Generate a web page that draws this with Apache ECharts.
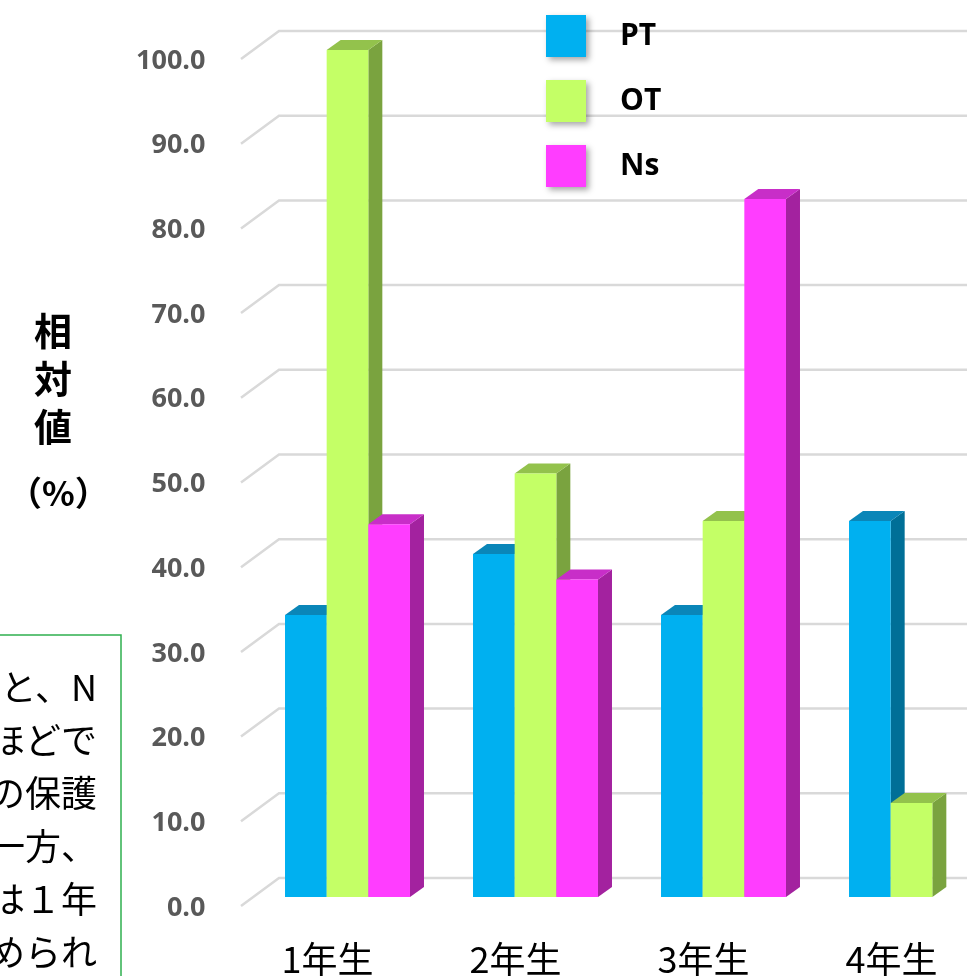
<!DOCTYPE html>
<html>
<head>
<meta charset="utf-8">
<title>相対値</title>
<script src="https://cdn.jsdelivr.net/npm/echarts@6/dist/echarts.min.js"></script>
<style>
  html, body { margin: 0; padding: 0; background: #fff; }
  #chart { width: 967px; height: 976px; }
</style>
</head>
<body>
<div id="chart"></div>
<script>
// data
var categories = ['1年生', '2年生', '3年生', '4年生'];
var seriesNames = ['PT', 'OT', 'Ns'];
var ptValues = [33.3, 40.5, 33.3, 44.4];
var otValues = [100.0, 50.0, 44.4, 11.1];
var nsValues = [44.0, 37.5, 82.4, null];
var yTicks = [0, 10, 20, 30, 40, 50, 60, 70, 80, 90, 100];
var noteLines = ['と、N', 'ほどで', 'の保護', '一方、', 'は１年', 'められ'];

// front / top / side colours of the 3d bars
var faceColors = {
    PT: ['#00b0f0', '#0a86b8', '#006f97'],
    OT: ['#c4ff66', '#93c24c', '#7aa33f'],
    Ns: ['#ff3dff', '#c82ec8', '#a3229f']
};
var DX = 14, DY = 10;

function toPairs(values) {
    var out = [];
    values.forEach(function (v, i) {
        if (v != null) out.push([i, v]);
    });
    return out;
}

function barRenderer(k, cols) {
    return function (params, api) {
        var top = api.coord([api.value(0), api.value(1)]);
        var base = api.coord([api.value(0), 0]);
        var band = api.size([1, 0])[0];
        var w = band * 0.2216;
        var l = top[0] - 1.5 * w + k * w;
        var yt = top[1], yb = base[1];
        return {
            type: 'group',
            children: [
                {type: 'polygon', shape: {points: [[l + w, yt], [l + w + DX, yt - DY], [l + w + DX, yb - DY], [l + w, yb]]}, style: {fill: cols[2]}},
                {type: 'polygon', shape: {points: [[l, yt], [l + DX, yt - DY], [l + w + DX, yt - DY], [l + w, yt]]}, style: {fill: cols[1]}},
                {type: 'rect', shape: {x: l, y: yt, width: w, height: yb - yt}, style: {fill: cols[0]}}
            ]
        };
    };
}

function gridRenderer(params, api) {
    var p = api.coord([0, api.value(1)]);
    var cs = params.coordSys;
    var y = p[1];
    return {
        type: 'polyline',
        silent: true,
        shape: {points: [[cs.x - 12.5, y + 9], [cs.x + 25.5, y - 19], [cs.x + cs.width, y - 19]]},
        style: {stroke: '#d9d9d9', lineWidth: 2.5, fill: null}
    };
}

var valueSets = [ptValues, otValues, nsValues];
var series = [{
    name: 'grid',
    type: 'custom',
    silent: true,
    renderItem: gridRenderer,
    data: yTicks.map(function (v) { return [0, v]; })
}];
seriesNames.forEach(function (name, k) {
    series.push({
        name: name,
        type: 'custom',
        renderItem: barRenderer(k, faceColors[name]),
        itemStyle: {color: faceColors[name][0]},
        data: toPairs(valueSets[k])
    });
});

var myChart = echarts.init(document.getElementById('chart'));
var option = {
    backgroundColor: '#fff',
    animation: false,
    grid: {left: 253.5, top: 50, width: 752, height: 847, outerBoundsMode: 'none', containLabel: false},
    legend: {
        data: seriesNames,
        orient: 'vertical',
        left: 541,
        top: 10,
        icon: 'rect',
        itemWidth: 40,
        itemHeight: 42,
        itemGap: 23,
        itemStyle: {shadowBlur: 6, shadowColor: 'rgba(0,0,0,0.35)', shadowOffsetX: 3, shadowOffsetY: 3},
        textStyle: {
            fontFamily: 'Open Sans',
            fontWeight: 'bold',
            fontSize: 30,
            color: '#000',
            padding: [6, 0, 0, 29]
        }
    },
    xAxis: {
        type: 'category',
        data: categories,
        axisLine: {show: false},
        axisTick: {show: false},
        splitLine: {show: false},
        axisLabel: {
            fontFamily: 'Noto Sans CJK JP',
            fontSize: 36,
            lineHeight: 40,
            color: '#000',
            margin: 42,
            padding: [0, 40, 0, 0]
        }
    },
    yAxis: {
        type: 'value',
        min: 0,
        max: 100,
        interval: 10,
        axisLine: {show: false},
        axisTick: {show: false},
        splitLine: {show: false},
        axisLabel: {
            formatter: function (v) { return v.toFixed(1); },
            fontFamily: 'Open Sans',
            fontWeight: 'bold',
            fontSize: 27,
            lineHeight: 22,
            verticalAlign: 'top',
            color: '#595959',
            margin: 48
        }
    },
    graphic: [
        {
            type: 'text',
            left: 34,
            top: 307,
            style: {
                text: '相\n対\n値',
                font: 'bold 38px "Noto Sans CJK JP"',
                lineHeight: 48,
                fill: '#000',
                align: 'center'
            }
        },
        {
            type: 'text',
            left: 8,
            top: 476,
            style: {
                text: '（%）',
                font: 'bold 34px "Noto Sans CJK JP"',
                fill: '#000'
            }
        },
        {
            type: 'rect',
            shape: {x: -5, y: 635, width: 126, height: 400},
            style: {fill: '#fff', stroke: '#2fb04f', lineWidth: 1.5}
        },
        {
            type: 'text',
            x: 97,
            y: 661,
            style: {
                text: noteLines.join('\n'),
                font: '36px "Noto Sans CJK JP"',
                lineHeight: 53,
                fill: '#000',
                align: 'right'
            }
        }
    ],
    series: series
};
myChart.setOption(option);
</script>
</body>
</html>
